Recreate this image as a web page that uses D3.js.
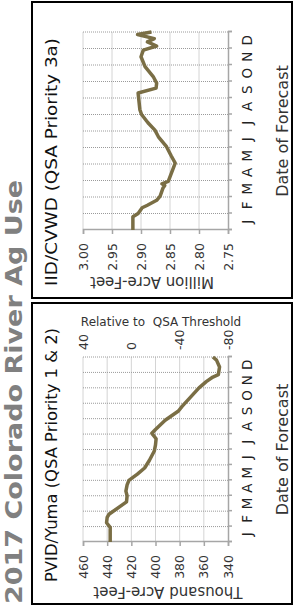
<!DOCTYPE html>
<html>
<head>
<meta charset="utf-8">
<script src="https://cdn.jsdelivr.net/npm/d3@7/dist/d3.min.js"></script>
<style>
  body { margin: 0; background: #fff; }
  svg text { font-family: "DejaVu Sans", sans-serif; }
</style>
</head>
<body>
<svg id="chart" width="294" height="605"></svg>
<script>
// chart values
const mainTitle = '2017 Colorado River Ag Use';
const monthLabels = ['J', 'F', 'M', 'A', 'M', 'J', 'J', 'A', 'S', 'O', 'N', 'D'];

const pvidTitle = 'PVID/Yuma (QSA Priority 1 & 2)';
const pvidAxisTitle = 'Thousand Acre-Feet';
const pvidTicks = [460, 440, 420, 400, 380, 360, 340];
const pvidThreshold = 420;
const pvidRelTicks = [40, 0, -40, -80];
const pvidRelTitle = 'Relative to  QSA Threshold';
const pvidMonth = [0, 0.95, 1.25, 1.6, 1.8, 2.6, 3.0, 3.3, 3.7, 4.0, 4.4, 4.8, 5.3, 5.9, 6.3, 6.7, 7.05, 7.3, 7.9, 8.5, 8.8, 9.4, 10.0, 10.4, 10.7, 10.85, 11.35, 11.8, 12.0];
const pvidValue = [437.5, 437.5, 440.5, 440, 438.5, 424, 423.5, 424.5, 423.5, 422, 415, 409, 405, 401, 400, 399.5, 403, 400, 392, 381, 378, 371, 364, 358, 352.5, 348, 347, 349.5, 352.5];

const iidTitle = 'IID/CVWD (QSA Priority 3a)';
const iidAxisTitle = 'Million Acre-Feet';
const iidTicks = [3.00, 2.95, 2.90, 2.85, 2.80, 2.75];
const iidMonth = [0, 0.8, 1.0, 1.35, 1.5, 1.8, 2.05, 2.55, 2.7, 2.8, 2.95, 4.05, 4.5, 5.05, 5.65, 6.05, 6.5, 7.0, 7.3, 8.3, 8.6, 8.9, 9.3, 9.9, 10.5, 10.9, 11.15, 11.4, 11.6, 11.85, 12.0];
const iidValue = [2.914, 2.914, 2.905, 2.898, 2.889, 2.873, 2.867, 2.862, 2.859, 2.864, 2.853, 2.841, 2.848, 2.856, 2.870, 2.876, 2.888, 2.899, 2.902, 2.905, 2.874, 2.873, 2.879, 2.893, 2.900, 2.896, 2.873, 2.889, 2.877, 2.906, 2.882];

const lineColor = '#7a6e45';

// the whole picture is laid out landscape (605 x 294) and turned a quarter left
const svg = d3.select('#chart');
const root = svg.append('g').attr('transform', 'translate(0,605) rotate(-90)');

root.append('text')
  .attr('x', 1)
  .attr('y', 22)
  .attr('textLength', 424)
  .attr('lengthAdjust', 'spacingAndGlyphs')
  .style('font-weight', 'bold')
  .style('font-size', '23px')
  .attr('fill', '#808080')
  .text(mainTitle);

function drawPanel(opts) {
  const g = root.append('g');

  g.append('rect')
    .attr('x', opts.box[0]).attr('y', opts.box[1])
    .attr('width', opts.box[2]).attr('height', opts.box[3])
    .attr('fill', 'none').attr('stroke', '#000').attr('stroke-width', 2);

  const x = d3.scaleLinear().domain([0, 12]).range([opts.left, opts.right]);
  const y = d3.scaleLinear().domain(d3.extent(opts.ticks)).range([opts.bottom, opts.top]);
  const band = d3.scaleBand().domain(d3.range(12)).range([opts.left, opts.right]);

  // value grid (solid) and month grid (dotted)
  g.append('g').selectAll('line')
    .data(opts.ticks.slice(0, -1))
    .join('line')
    .attr('x1', opts.left).attr('x2', opts.right)
    .attr('y1', d => y(d)).attr('y2', d => y(d))
    .attr('stroke', '#d4d4d4');

  g.append('g').selectAll('line')
    .data(d3.range(1, 13))
    .join('line')
    .attr('x1', d => x(d)).attr('x2', d => x(d))
    .attr('y1', opts.top).attr('y2', opts.bottom)
    .attr('stroke', '#9a9a9a')
    .attr('stroke-dasharray', '1,1');

  // value axis
  const yAxis = g.append('g')
    .attr('transform', `translate(${opts.left},0)`)
    .call(d3.axisLeft(y).tickValues(opts.ticks).tickSize(4).tickPadding(9).tickFormat(opts.format));
  yAxis.selectAll('text').style('font-size', '12.5px').attr('fill', '#333');

  // month ticks and labels
  const xAxis = g.append('g')
    .attr('transform', `translate(0,${opts.bottom})`)
    .call(d3.axisBottom(x).tickValues(d3.range(13)).tickSize(4).tickFormat(''));
  g.append('g')
    .attr('transform', `translate(0,${opts.bottom})`)
    .call(d3.axisBottom(band).tickSize(0).tickPadding(14).tickFormat(i => monthLabels[i]))
    .call(a => a.select('.domain').remove())
    .selectAll('text').style('font-size', '13.5px').attr('fill', '#222');

  [yAxis, xAxis].forEach(a => {
    a.select('.domain').attr('stroke', '#a6a6a6').attr('stroke-width', 1.5);
    a.selectAll('.tick line').attr('stroke', '#a6a6a6').attr('stroke-width', 1.5);
  });

  const line = d3.line().x(d => x(d[0])).y(d => y(d[1]));
  g.append('path')
    .datum(d3.zip(opts.month, opts.value))
    .attr('d', line)
    .attr('fill', 'none')
    .attr('stroke', lineColor)
    .attr('stroke-width', 3.5)
    .attr('stroke-linejoin', 'round');

  g.append('text')
    .attr('x', opts.titleX).attr('y', 57)
    .attr('text-anchor', 'middle')
    .attr('textLength', opts.titleLength)
    .attr('lengthAdjust', 'spacingAndGlyphs')
    .style('font-size', '16px').attr('fill', '#111')
    .text(opts.title);

  g.append('text')
    .attr('transform', `translate(${opts.axisTitleX},${opts.axisTitleY}) rotate(-90)`)
    .attr('text-anchor', 'middle')
    .style('font-size', '15px').attr('fill', '#333')
    .text(opts.axisTitle);

  g.append('text')
    .attr('x', (opts.left + opts.right) / 2).attr('y', 288)
    .attr('text-anchor', 'middle')
    .style('font-size', '16px').attr('fill', '#333')
    .text('Date of Forecast');

  return { g, x, y };
}

const pvid = drawPanel({
  box: [1, 32, 301, 260],
  left: 63, right: 248, top: 83, bottom: 228,
  ticks: pvidTicks, format: d3.format('d'),
  month: pvidMonth, value: pvidValue,
  title: pvidTitle, titleX: 150, titleLength: 254,
  axisTitle: pvidAxisTitle, axisTitleX: 18, axisTitleY: 168
});

// secondary axis: difference from the QSA threshold
const rel = d3.scaleLinear()
  .domain(d3.extent(pvidTicks).map(d => d - pvidThreshold))
  .range(pvid.y.range());
pvid.g.append('g')
  .attr('transform', 'translate(248,0)')
  .call(d3.axisRight(rel).tickValues(pvidRelTicks).tickSize(0).tickPadding(7).tickFormat(d => String(d)))
  .call(a => a.select('.domain').remove())
  .selectAll('text').style('font-size', '12.5px').attr('fill', '#333');

pvid.g.append('text')
  .attr('transform', 'translate(279,161) rotate(90)')
  .attr('text-anchor', 'middle')
  .style('font-size', '12px').style('white-space', 'pre').attr('fill', '#333')
  .text(pvidRelTitle);

drawPanel({
  box: [307, 32, 296, 260],
  left: 375, right: 573, top: 83, bottom: 228,
  ticks: iidTicks, format: d3.format('.2f'),
  month: iidMonth, value: iidValue,
  title: iidTitle, titleX: 443, titleLength: 248,
  axisTitle: iidAxisTitle, axisTitleX: 328, axisTitleY: 152
});
</script>
</body>
</html>
